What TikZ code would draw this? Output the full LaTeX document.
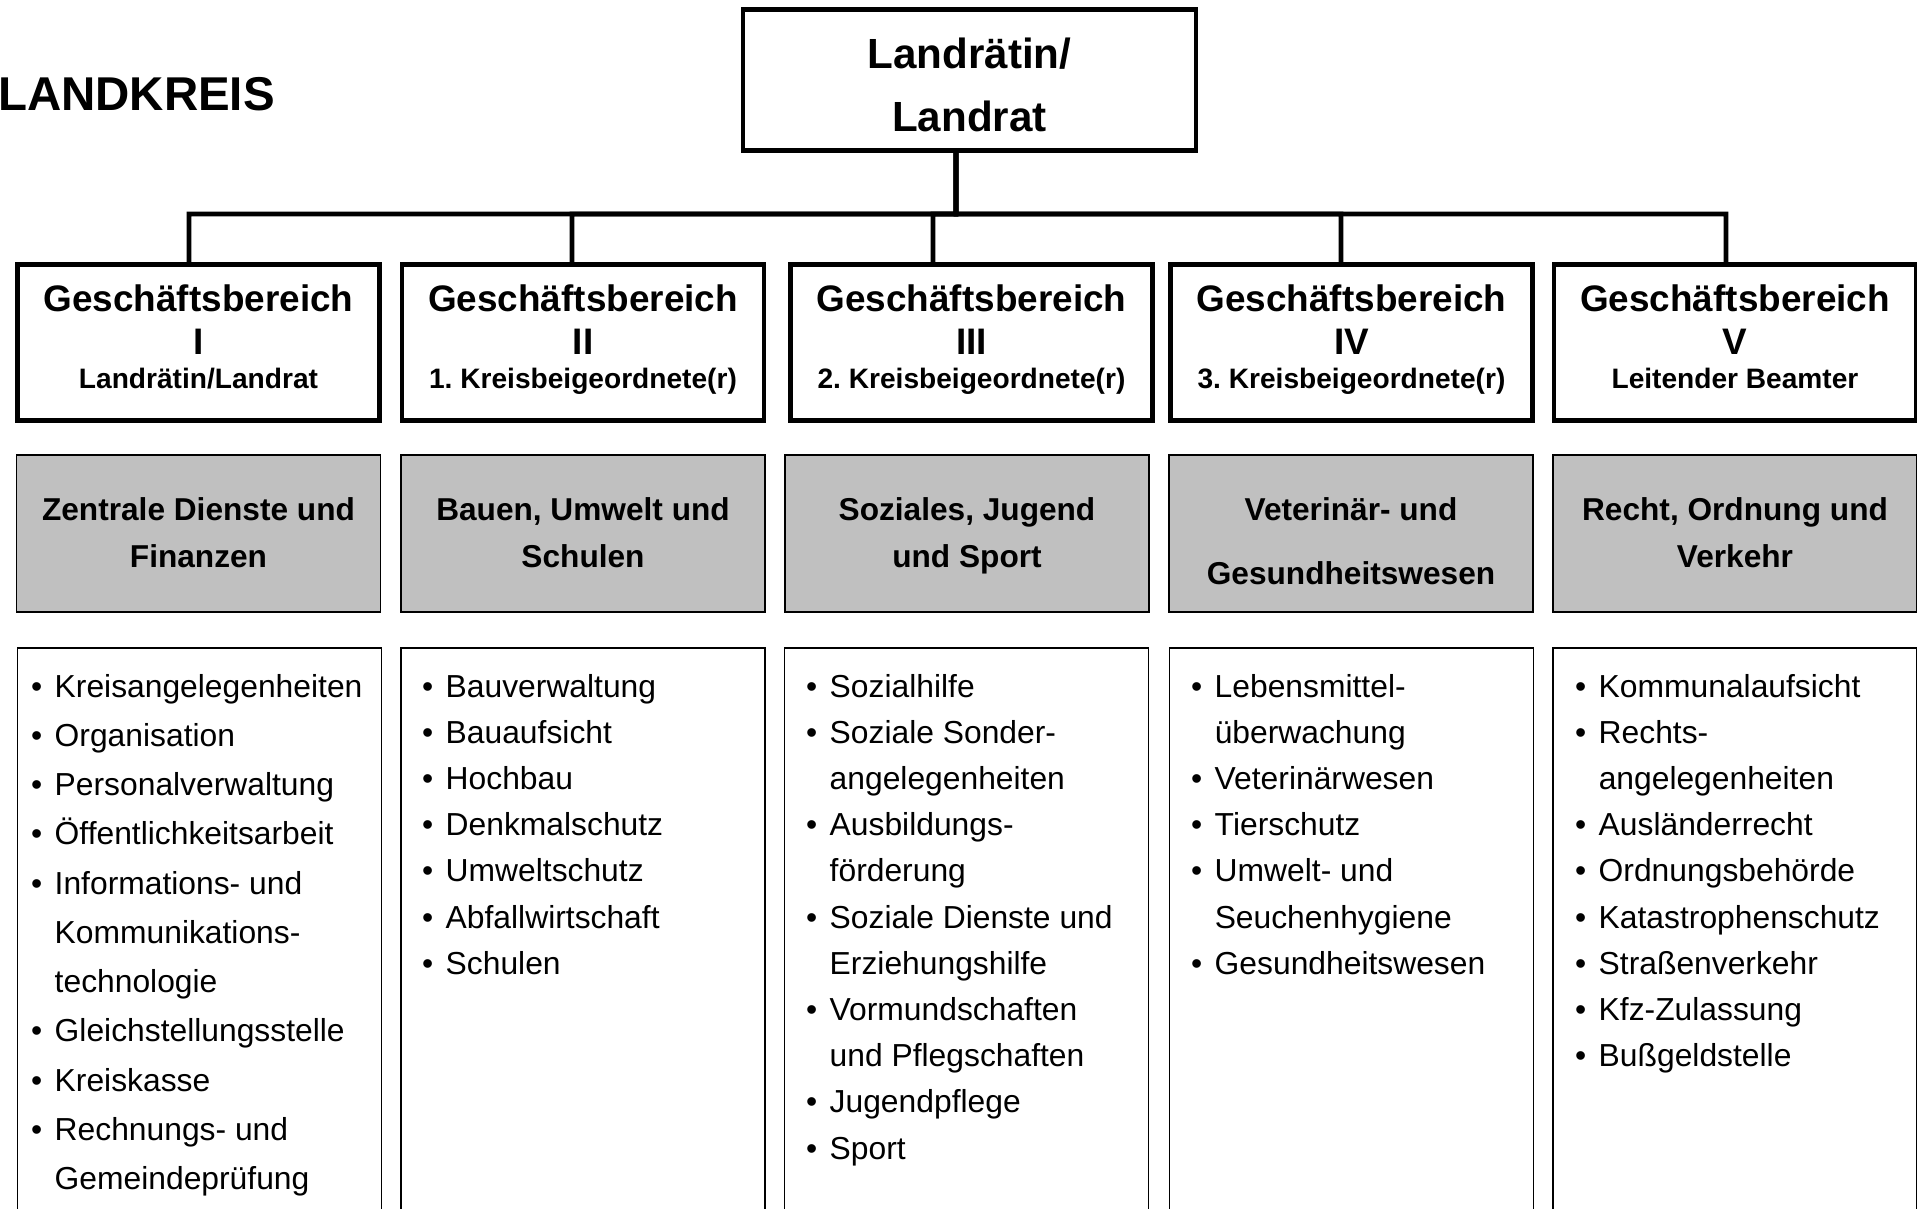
\documentclass[tikz,border=0pt]{standalone}
\usepackage{fontspec}
\setmainfont{Liberation Sans}
\frenchspacing
\usepackage{tikz}
\usetikzlibrary{positioning}
\usetikzlibrary{calc}
\definecolor{deptgray}{RGB}{192,192,192}
\tikzstyle{chiefbox}=[rectangle,draw,line width=1.3pt,minimum width=4.53cm,minimum height=1.41cm,inner sep=0pt]
\tikzstyle{areabox}=[rectangle,draw,line width=1.3pt,minimum width=3.62cm,minimum height=1.56cm,inner sep=0pt]
\tikzstyle{deptbox}=[rectangle,draw,line width=0.5pt,fill=deptgray,minimum width=3.64cm,minimum height=1.57cm,inner sep=0pt]
\tikzstyle{taskbox}=[rectangle,draw,line width=0.5pt,minimum width=3.64cm,minimum height=6cm,inner sep=0pt,anchor=north]
\tikzstyle{orgline} = [draw,line width=1.3pt,line join=miter]
\tikzstyle{headtext} = [anchor=base,inner sep=0pt,font=\fontsize{12}{14}\selectfont\bfseries]
\tikzstyle{areatext} = [anchor=base,inner sep=0pt,font=\fontsize{10.5}{12}\selectfont\bfseries]
\tikzstyle{areasubtext} = [anchor=base,inner sep=0pt,font=\fontsize{8}{10}\selectfont\bfseries]
\tikzstyle{depttext} = [anchor=base,inner sep=0pt,font=\fontsize{9}{11}\selectfont\bfseries]
\tikzstyle{tasktext} = [anchor=base west,inner sep=0pt,font=\fontsize{9.05}{13.15}\selectfont]

\begin{document}
\begin{tikzpicture}

	\useasboundingbox (0,0) rectangle (19.17,-12.08);
	\clip (0,0) rectangle (19.17,-12.08);

	\def\h{3.425};
	\def\g{5.335};
	\def\t{6.47};
	\def\b{6.97};

% Title
	\node[anchor=base east,inner sep=0pt,font=\fontsize{13.5}{16}\selectfont\bfseries] (title) at (2.755,-1.10) {LANDKREIS};

%layer 1
	\node[chiefbox] (chief) at (9.695,-0.80) {};
	\node[headtext] (chieftop) at (9.695,-0.68) {Landrätin/};
	\node[headtext] (chiefbot) at (9.695,-1.31) {Landrat};

%layer 2
	\foreach \x/\n/\num/\who in {1.985/1/I/{Landrätin/Landrat}, 5.83/2/II/{1. Kreisbeigeordnete(r)}, 9.715/3/III/{2. Kreisbeigeordnete(r)}, 13.515/4/IV/{3. Kreisbeigeordnete(r)}, 17.35/5/V/{Leitender Beamter}}
	{
		\node[areabox] (gb\n) at (\x,-\h) {};
		\node[areatext] (gbtitle\n) at (\x,-3.11) {Geschäftsbereich};
		\node[areatext] (gbnum\n) at (\x,-3.54) {\num};
		\node[areasubtext] (gbwho\n) at (\x,-3.88) {\who};
	}

%layer 3
	\foreach \x/\n/\first/\second/\dy in {1.985/1/{Zentrale Dienste und}/{Finanzen}/0.47, 5.83/2/{Bauen, Umwelt und}/{Schulen}/0.47, 9.67/3/{Soziales, Jugend}/{und Sport}/0.47, 13.51/4/{Veterinär- und}/{Gesundheitswesen}/0.64, 17.35/5/{Recht, Ordnung und}/{Verkehr}/0.47}
	{
		\node[deptbox] (dept\n) at (\x,-\g) {};
		\node[depttext] (depttop\n) at (\x,-5.20) {\first};
		\node[depttext] (deptbot\n) at (\x,-5.20-\dy) {\second};
	}

%layer 4
	\foreach \x/\n in {1.995/1, 5.83/2, 9.665/3, 13.515/4, 17.35/5}
		\node[taskbox] (task\n) at (\x,-\t) {};

 % Edges
	\coordinate (bus) at (9.56,-2.14);
	\foreach \dest/\dx in {gb1/-0.095, gb2/-0.11, gb3/-0.385, gb4/-0.105, gb5/-0.09}
		\path[orgline] ([xshift=\dx cm]\dest.north) |- (bus) -- ([xshift=-0.135cm]chief.south);

   %Tasks
	\node[tasktext,font=\fontsize{9.05}{14.02}\selectfont] (list1) at (0.304,-\b) {%
		\begin{tabular}[t]{@{}l@{\hspace{0.125cm}}l@{}}
		\textbullet & Kreisangelegenheiten\\
		\textbullet & Organisation\\
		\textbullet & Personalverwaltung\\
		\textbullet & Öffentlichkeitsarbeit\\
		\textbullet & Informations- und\\
		            & Kommunikations-\\
		            & technologie\\
		\textbullet & Gleichstellungsstelle\\
		\textbullet & Kreiskasse\\
		\textbullet & Rechnungs- und\\
		            & Gemeindeprüfung
		\end{tabular}};

	\node[tasktext] (list2) at (4.214,-\b) {%
		\begin{tabular}[t]{@{}l@{\hspace{0.125cm}}l@{}}
		\textbullet & Bauverwaltung\\
		\textbullet & Bauaufsicht\\
		\textbullet & Hochbau\\
		\textbullet & Denkmalschutz\\
		\textbullet & Umweltschutz\\
		\textbullet & Abfallwirtschaft\\
		\textbullet & Schulen
		\end{tabular}};

	\node[tasktext] (list3) at (8.054,-\b) {%
		\begin{tabular}[t]{@{}l@{\hspace{0.125cm}}l@{}}
		\textbullet & Sozialhilfe\\
		\textbullet & Soziale Sonder-\\
		            & angelegenheiten\\
		\textbullet & Ausbildungs-\\
		            & förderung\\
		\textbullet & Soziale Dienste und\\
		            & Erziehungshilfe\\
		\textbullet & Vormundschaften\\
		            & und Pflegschaften\\
		\textbullet & Jugendpflege\\
		\textbullet & Sport
		\end{tabular}};

	\node[tasktext] (list4) at (11.904,-\b) {%
		\begin{tabular}[t]{@{}l@{\hspace{0.125cm}}l@{}}
		\textbullet & Lebensmittel-\\
		            & überwachung\\
		\textbullet & Veterinärwesen\\
		\textbullet & Tierschutz\\
		\textbullet & Umwelt- und\\
		            & Seuchenhygiene\\
		\textbullet & Gesundheitswesen
		\end{tabular}};

	\node[tasktext] (list5) at (15.744,-\b) {%
		\begin{tabular}[t]{@{}l@{\hspace{0.125cm}}l@{}}
		\textbullet & Kommunalaufsicht\\
		\textbullet & Rechts-\\
		            & angelegenheiten\\
		\textbullet & Ausländerrecht\\
		\textbullet & Ordnungsbehörde\\
		\textbullet & Katastrophenschutz\\
		\textbullet & Straßenverkehr\\
		\textbullet & Kfz-Zulassung\\
		\textbullet & Bußgeldstelle
		\end{tabular}};

\end{tikzpicture}
\end{document}
